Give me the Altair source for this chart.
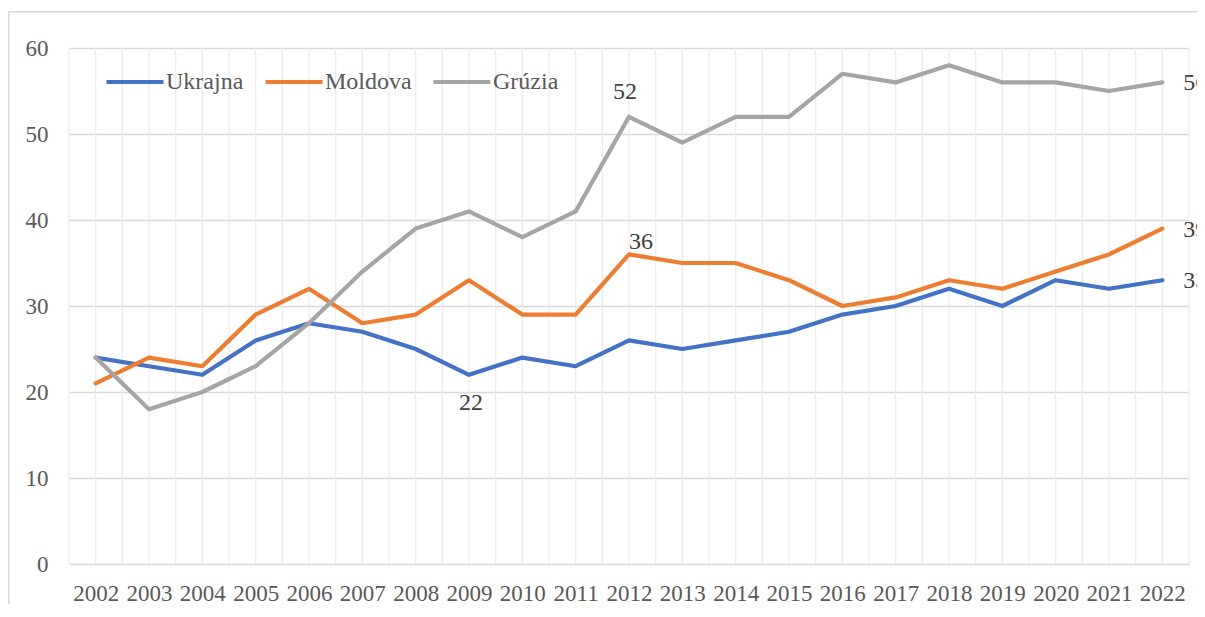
import altair as alt
import pandas as pd

years = list(range(2002, 2023))
ukrajna = [24, 23, 22, 26, 28, 27, 25, 22, 24, 23, 26, 25, 26, 27, 29, 30, 32, 30, 33, 32, 33]
moldova = [21, 24, 23, 29, 32, 28, 29, 33, 29, 29, 36, 35, 35, 33, 30, 31, 33, 32, 34, 36, 39]
gruzia = [24, 18, 20, 23, 28, 34, 39, 41, 38, 41, 52, 49, 52, 52, 57, 56, 58, 56, 56, 55, 56]
series = ["Ukrajna", "Moldova", "Grúzia"]
colors = ["#4472C4", "#ED7D31", "#A5A5A5"]
y_ticks = [0, 10, 20, 30, 40, 50, 60]
x_grid = [2001.5 + 0.5 * i for i in range(43)]

rows = []
for name, vals in zip(series, [ukrajna, moldova, gruzia]):
    for yr, v in zip(years, vals):
        rows.append({"year": yr, "value": v, "series": name})
df = pd.DataFrame(rows)

FONT = "Liberation Serif"
x_scale = alt.Scale(domain=[2001.5, 2022.5], nice=False, zero=False)
y_scale = alt.Scale(domain=[0, 60], nice=False)

base = alt.Chart(df)

x_axis = alt.Axis(values=years, format="d", ticks=False, domain=False, grid=False,
                  title=None, labelPadding=18, labelFontSize=23,
                  labelFont=FONT, labelColor="#595959", zindex=1)
y_axis = alt.Axis(values=y_ticks, ticks=False, domain=False, grid=True, title=None,
                  labelPadding=21, labelFontSize=23, gridColor="#d9d9d9", gridWidth=1.3,
                  labelFont=FONT, labelColor="#595959")

vgrid = alt.Chart(pd.DataFrame({"g": x_grid})).mark_rule(
    color="#ebebeb", strokeWidth=1.2).encode(
    x=alt.X("g:Q", scale=x_scale, axis=x_axis),
    y=alt.YDatum(0, scale=y_scale, axis=y_axis),
    y2=alt.datum(60))

lines = base.mark_line(strokeWidth=4.2, strokeCap="round", strokeJoin="round").encode(
    x=alt.X("year:Q", scale=x_scale, axis=x_axis),
    y=alt.Y("value:Q", scale=y_scale, axis=y_axis),
    color=alt.Color("series:N", scale=alt.Scale(domain=series, range=colors),
                    legend=alt.Legend(title=None, orient="none", legendX=35, legendY=3,
                                      direction="horizontal", columns=3,
                                      symbolType="stroke", symbolSize=57 * 57,
                                      symbolStrokeWidth=4.2, labelFont=FONT,
                                      labelFontSize=24, labelColor="#595959",
                                      labelOffset=0, columnPadding=13, padding=0)),
)

lbl_style = dict(font=FONT, fontSize=24, color="#404040")
xe = alt.X("year:Q", scale=x_scale, axis=x_axis)
ye = alt.Y("value:Q", scale=y_scale, axis=y_axis)

lbl_52 = base.transform_filter(
    (alt.datum.series == "Grúzia") & (alt.datum.year == 2012)
).mark_text(align="center", baseline="alphabetic", dx=-4, dy=-18, **lbl_style).encode(
    x=xe, y=ye, text="value:Q")

lbl_36 = base.transform_filter(
    (alt.datum.series == "Moldova") & (alt.datum.year == 2012)
).mark_text(align="center", baseline="alphabetic", dx=12, dy=-5, **lbl_style).encode(
    x=xe, y=ye, text="value:Q")

lbl_22 = base.transform_filter(
    (alt.datum.series == "Ukrajna") & (alt.datum.year == 2009)
).mark_text(align="center", baseline="alphabetic", dx=2, dy=35, **lbl_style).encode(
    x=xe, y=ye, text="value:Q")

lbl_end = base.transform_filter(alt.datum.year == 2022).mark_text(
    align="left", baseline="middle", dx=21, dy=1, **lbl_style).encode(
    x=xe, y=ye, text="value:Q")

border = alt.Chart(pd.DataFrame({"a": [0]})).mark_rect(
    fill="transparent", stroke="#d9d9d9", strokeWidth=1.5).encode(
    x=alt.value(-60.2), x2=alt.value(1300), y=alt.value(-36.3), y2=alt.value(700))

chart = alt.layer(vgrid, lines, lbl_52, lbl_36, lbl_22, lbl_end, border).properties(
    width=1120, height=516,
    autosize=alt.AutoSizeParams(type="none"),
    padding={"left": 61, "top": 40, "right": 8, "bottom": 40},
).configure_view(strokeWidth=0)

chart.save("out.html", embed_options={"renderer": "svg", "actions": False})
